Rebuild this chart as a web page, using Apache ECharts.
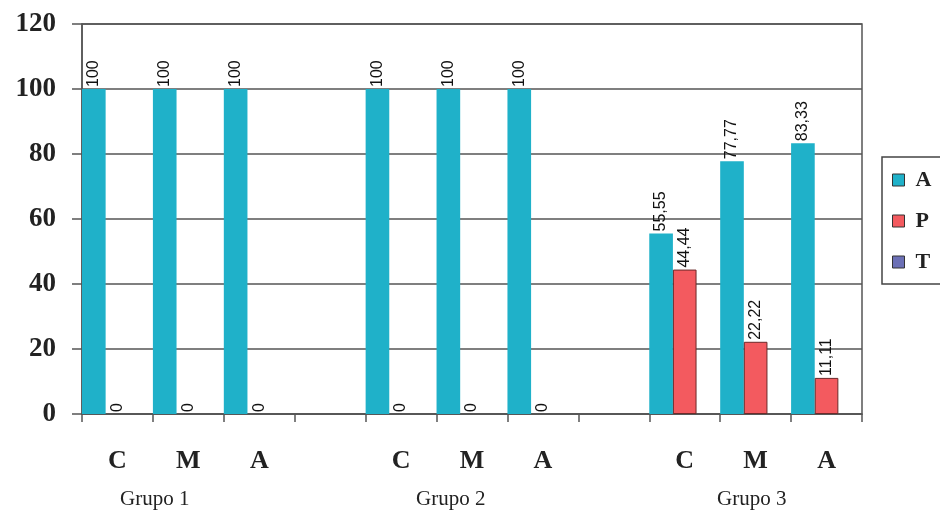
<!DOCTYPE html>
<html>
<head>
<meta charset="utf-8">
<script src="https://cdn.jsdelivr.net/npm/echarts@6/dist/echarts.min.js"></script>
<style>
  html, body { margin: 0; padding: 0; background: #fff; }
  #chart { width: 940px; height: 514px; }
</style>
</head>
<body>
<div id="chart"></div>
<script>
// Categories along the x axis (blank slots separate the three groups)
var categories = ['C', 'M', 'A', '', 'C', 'M', 'A', '', 'C', 'M', 'A'];
var groupNames = ['Grupo 1', 'Grupo 2', 'Grupo 3'];
var seriesNames = ['A', 'P', 'T'];

// Percentages per category
var valuesA = [100, 100, 100, null, 100, 100, 100, null, 55.55, 77.77, 83.33];
var valuesP = [0, 0, 0, null, 0, 0, 0, null, 44.44, 22.22, 11.11];
var valuesT = [null, null, null, null, null, null, null, null, null, null, null];

var yTicks = [0, 20, 40, 60, 80, 100, 120];

var colors = ['#1fb1c9', '#f35a5f', '#6c70b6'];

var chart = echarts.init(document.getElementById('chart'));

function fmtComma(p) {
  if (p.value === null || p.value === undefined) return '';
  return String(p.value).replace('.', ',');
}

var valueLabel = {
  show: true,
  position: 'top',
  rotate: 90,
  align: 'left',
  verticalAlign: 'middle',
  distance: 7,
  offset: [-5, 0],
  fontFamily: 'Liberation Sans',
  fontSize: 16,
  color: '#111',
  formatter: fmtComma
};

function makeSeries(name, data, idx, border) {
  return {
    name: name,
    type: 'bar',
    data: data.map(function (v) {
      // zero-height bars get no outline so nothing shows at the baseline
      if (v === 0) return { value: v, itemStyle: { borderWidth: 0 } };
      return v;
    }),
    barGap: '0%',
    barCategoryGap: '0%',
    itemStyle: {
      color: colors[idx],
      borderColor: border,
      borderWidth: border ? 1 : 0
    },
    label: idx === 2 ? { show: false } : valueLabel
  };
}

var option = {
  backgroundColor: '#fff',
  animation: false,
  grid: {
    left: 82, right: 78, top: 24, bottom: 100,
    show: true,
    borderColor: '#555',
    borderWidth: 1.5
  },
  legend: {
    orient: 'vertical',
    left: 882,
    top: 157,
    padding: [12, 20, 11, 10],
    itemWidth: 12,
    itemHeight: 12,
    itemGap: 19,
    borderColor: '#444',
    borderWidth: 1.5,
    data: seriesNames.map(function (n) {
      return { name: n, icon: 'rect', itemStyle: { borderColor: '#333', borderWidth: 1 } };
    }),
    textStyle: {
      fontFamily: 'Liberation Serif',
      fontWeight: 'bold',
      fontSize: 22,
      color: '#222',
      padding: [0, 0, 0, 6]
    }
  },
  xAxis: {
    type: 'category',
    data: categories,
    axisLine: { lineStyle: { color: '#555', width: 1.5 } },
    axisTick: { show: true, length: 8, lineStyle: { color: '#555', width: 1.5 } },
    axisLabel: {
      interval: 0,
      margin: 34,
      fontFamily: 'Liberation Serif',
      fontWeight: 'bold',
      fontSize: 26,
      color: '#222'
    },
    splitLine: { show: false }
  },
  yAxis: {
    type: 'value',
    min: yTicks[0],
    max: yTicks[yTicks.length - 1],
    interval: yTicks[1] - yTicks[0],
    axisLine: { show: true, lineStyle: { color: '#555', width: 1.5 } },
    axisTick: { show: true, length: 10, lineStyle: { color: '#555', width: 1.5 } },
    axisLabel: {
      margin: 26,
      padding: [6, 0, 0, 0],
      fontFamily: 'Liberation Serif',
      fontWeight: 'bold',
      fontSize: 27,
      color: '#222'
    },
    splitLine: { lineStyle: { color: '#555', width: 1.5 } }
  },
  series: [
    makeSeries(seriesNames[0], valuesA, 0, null),
    makeSeries(seriesNames[1], valuesP, 1, '#6b2a2a'),
    makeSeries(seriesNames[2], valuesT, 2, '#333')
  ],
  graphic: [
    { type: 'text', left: 120, top: 489, style: { text: groupNames[0], font: '21px "Liberation Serif"', fill: '#222' } },
    { type: 'text', left: 416, top: 489, style: { text: groupNames[1], font: '21px "Liberation Serif"', fill: '#222' } },
    { type: 'text', left: 717, top: 489, style: { text: groupNames[2], font: '21px "Liberation Serif"', fill: '#222' } }
  ]
};

chart.setOption(option);
</script>
</body>
</html>
